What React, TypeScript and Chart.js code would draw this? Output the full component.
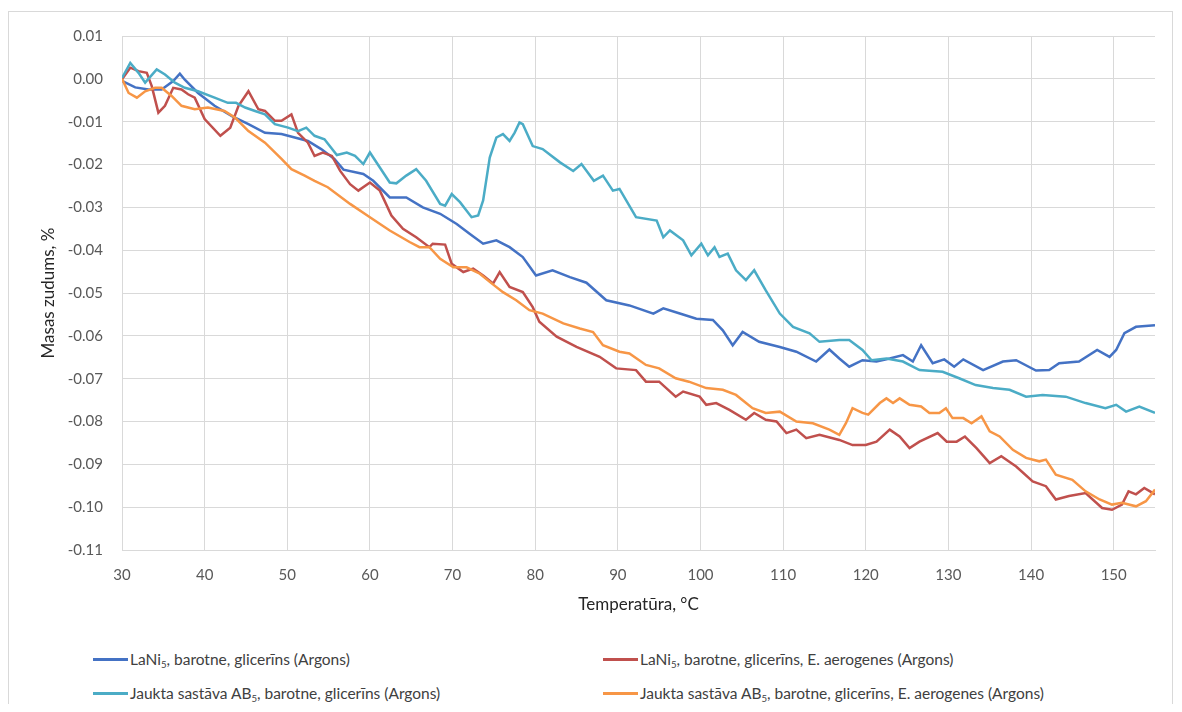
import React, { useEffect, useRef } from "react";
import { Chart, registerables } from "chart.js";

Chart.register(...registerables);

const FONT = "Lato, 'Liberation Sans', sans-serif";

// Series names (legend order: row by row)
const seriesLabels = [
  "LaNi₅, barotne, glicerīns (Argons)",
  "LaNi₅, barotne, glicerīns, E. aerogenes (Argons)",
  "Jaukta sastāva AB₅, barotne, glicerīns (Argons)",
  "Jaukta sastāva AB₅, barotne, glicerīns, E. aerogenes (Argons)",
];
const seriesColors = ["#4472C4", "#C0504D", "#4BACC6", "#F79646"];

// LaNi5, barotne, glicerīns
const laniT = [30, 31.6, 33.2, 34.8, 36.2, 37, 37.6, 39.2, 41.2, 43.3, 45.3, 47.3, 49.3, 50.9, 52.5, 54.1, 55.7, 56.8, 59.2, 60.4, 62.4, 64.4, 66.4, 68.5, 70.5, 72.1, 73.7, 75.3, 76.9, 78.5, 80.1, 82.1, 84.2, 86.2, 88.6, 91.4, 94.3, 95.5, 97.5, 99.5, 101.5, 102.7, 103.9, 105.1, 107.1, 109.6, 111.6, 114, 115.6, 116.8, 118, 119.6, 121.3, 122.9, 124.5, 125.7, 126.7, 128.1, 129.5, 130.7, 131.8, 134.2, 136.6, 138.2, 140.6, 142.2, 143.4, 145.8, 148, 149.5, 150.3, 151.3, 152.7, 155];
const laniV = [-0.0005, -0.002, -0.0025, -0.0025, -0.0005, 0.0012, -0.0002, -0.0033, -0.0063, -0.0087, -0.0106, -0.0126, -0.0129, -0.0137, -0.0145, -0.0164, -0.0187, -0.0212, -0.0222, -0.0238, -0.0277, -0.0277, -0.03, -0.0315, -0.0339, -0.0362, -0.0385, -0.0377, -0.0393, -0.0416, -0.0459, -0.0447, -0.0463, -0.0476, -0.0517, -0.0529, -0.0548, -0.0536, -0.0548, -0.056, -0.0563, -0.0587, -0.0622, -0.0591, -0.0614, -0.0626, -0.0637, -0.066, -0.0632, -0.0653, -0.0672, -0.0657, -0.066, -0.0653, -0.0645, -0.066, -0.0622, -0.0664, -0.0655, -0.0672, -0.0655, -0.068, -0.066, -0.0657, -0.0681, -0.068, -0.0664, -0.066, -0.0633, -0.0649, -0.0633, -0.0594, -0.0579, -0.0575];

// LaNi5, barotne, glicerīns, E. aerogenes
const laniAeroT = [30, 31, 32, 33, 33.6, 34.4, 35.2, 36.2, 37.2, 38, 38.8, 40, 41.9, 43.1, 44.1, 45.3, 46.5, 47.3, 48.5, 49.3, 50.5, 51.3, 52.5, 53.3, 54.3, 55.4, 56.4, 57.6, 58.6, 60, 61.2, 62.6, 64, 65.6, 67.2, 67.6, 69.1, 69.9, 71.3, 72.5, 73.7, 74.9, 75.7, 76.9, 78.5, 79.7, 80.5, 82.6, 85, 87.8, 89.8, 92.2, 93.4, 95, 97, 97.9, 99.9, 100.7, 101.9, 103.5, 105.5, 106.5, 107.9, 109.2, 110.4, 111.6, 112.8, 114.4, 116.8, 118.4, 120, 121.3, 122.9, 124.1, 125.3, 126.5, 128.7, 129.8, 131, 132, 133.4, 135, 136.4, 138.2, 140.2, 141.8, 143, 144.6, 146.6, 148.6, 149.8, 151, 151.8, 152.7, 153.7, 155];
const laniAeroV = [-0.0001, 0.0026, 0.0018, 0.0014, -0.0017, -0.0079, -0.0063, -0.0021, -0.0025, -0.0036, -0.0044, -0.0094, -0.0133, -0.0114, -0.0063, -0.0029, -0.0071, -0.0075, -0.0098, -0.0098, -0.0083, -0.0126, -0.0149, -0.018, -0.0172, -0.018, -0.0215, -0.0246, -0.0261, -0.0242, -0.0261, -0.0319, -0.035, -0.037, -0.0393, -0.0385, -0.0387, -0.0432, -0.0451, -0.0443, -0.0459, -0.0478, -0.0451, -0.0486, -0.0498, -0.0533, -0.0567, -0.0602, -0.0626, -0.0649, -0.0676, -0.068, -0.0707, -0.0707, -0.0742, -0.073, -0.0742, -0.0761, -0.0757, -0.0773, -0.0796, -0.078, -0.0796, -0.08, -0.0827, -0.0819, -0.0839, -0.0831, -0.0843, -0.0855, -0.0855, -0.0847, -0.0819, -0.0835, -0.0862, -0.0847, -0.0827, -0.0847, -0.0847, -0.0835, -0.0862, -0.0897, -0.0881, -0.0905, -0.094, -0.0951, -0.0982, -0.0974, -0.0967, -0.1002, -0.1006, -0.0994, -0.0963, -0.097, -0.0955, -0.097];

// Jaukta sastāva AB5, barotne, glicerīns
const ab5T = [30, 31, 32, 32.8, 34.2, 35.2, 36.4, 37.6, 39.2, 41.2, 42.8, 43.8, 44.9, 46.1, 47.3, 48.5, 50.1, 51.3, 52.3, 53.3, 54.5, 56, 57.2, 58.2, 59.2, 60, 61.2, 62.4, 63.2, 64.4, 65.6, 66.8, 68.5, 69.1, 69.9, 70.9, 72.3, 73.1, 73.7, 74.5, 75.3, 76.1, 76.9, 77.5, 78.1, 78.5, 79.7, 80.9, 83, 84.6, 85.6, 87.1, 88.2, 89.4, 90.2, 92.2, 94.7, 95.5, 96.3, 97.9, 98.9, 100.1, 100.9, 101.7, 102.3, 103.3, 104.3, 105.5, 106.5, 107.9, 109.6, 111.2, 113.2, 114.4, 116.8, 118, 119.6, 120.7, 122.5, 124.5, 126.5, 129.3, 131.3, 133.3, 135.4, 137.4, 139.4, 141.4, 144.2, 146.6, 149, 150.3, 151.5, 153.1, 155];
const ab5V = [0.0002, 0.0037, 0.0014, -0.0009, 0.0022, 0.001, -0.0009, -0.0021, -0.0029, -0.0044, -0.0056, -0.0056, -0.0067, -0.0075, -0.0083, -0.0106, -0.0114, -0.0122, -0.0114, -0.0133, -0.0141, -0.0178, -0.0172, -0.018, -0.0199, -0.0172, -0.0207, -0.0242, -0.0244, -0.0226, -0.0211, -0.0238, -0.0292, -0.0296, -0.0269, -0.0288, -0.0323, -0.0319, -0.0284, -0.0184, -0.0137, -0.0129, -0.0145, -0.0126, -0.0102, -0.0106, -0.0157, -0.0164, -0.0195, -0.0215, -0.0199, -0.0238, -0.0226, -0.0261, -0.0257, -0.0323, -0.0331, -0.037, -0.0354, -0.0377, -0.0412, -0.0385, -0.0412, -0.0393, -0.0416, -0.0408, -0.0447, -0.047, -0.0447, -0.0494, -0.0548, -0.0579, -0.0594, -0.0614, -0.061, -0.061, -0.0633, -0.0657, -0.0653, -0.066, -0.068, -0.0684, -0.0699, -0.0715, -0.0722, -0.0726, -0.0742, -0.0738, -0.0742, -0.0757, -0.0769, -0.0761, -0.0777, -0.0765, -0.078];

// Jaukta sastāva AB5, barotne, glicerīns, E. aerogenes
const ab5AeroT = [30, 30.8, 31.8, 32.8, 34, 34.8, 36, 37.2, 38.8, 40.4, 42.4, 43.7, 45.3, 47.3, 49.3, 50.5, 52.1, 53.3, 54.9, 57.6, 60, 62.4, 64.8, 66, 67.2, 68.5, 70.1, 71.7, 73.3, 74.5, 76.1, 77.7, 79.3, 80.9, 83.4, 85.4, 87, 88.2, 90.2, 91.4, 93.4, 95, 97, 98.6, 100.7, 102.7, 104.3, 106.3, 107.9, 109.6, 111.6, 113.6, 115.6, 116.8, 117.6, 118.4, 119.6, 120.3, 121.7, 122.5, 123.3, 124.1, 125.3, 126.7, 127.7, 128.9, 129.7, 130.5, 131.8, 132.8, 134, 135, 136.2, 137.8, 139.4, 141, 141.8, 143, 145, 146.6, 148.3, 149.8, 151, 152.7, 153.9, 155];
const ab5AeroV = [0, -0.0033, -0.0044, -0.0029, -0.0021, -0.0021, -0.004, -0.0063, -0.0071, -0.0067, -0.0075, -0.0091, -0.0122, -0.0149, -0.0187, -0.0211, -0.0226, -0.0238, -0.0253, -0.0292, -0.0323, -0.0354, -0.0381, -0.0393, -0.0393, -0.042, -0.044, -0.044, -0.0455, -0.0474, -0.0498, -0.0517, -0.054, -0.0548, -0.0571, -0.0583, -0.0591, -0.0622, -0.0637, -0.0641, -0.0668, -0.0676, -0.0699, -0.0707, -0.0722, -0.0726, -0.0738, -0.0769, -0.078, -0.0777, -0.08, -0.0804, -0.0819, -0.0831, -0.0804, -0.0769, -0.078, -0.0784, -0.0757, -0.0746, -0.0757, -0.0746, -0.0761, -0.0765, -0.078, -0.078, -0.0769, -0.0792, -0.0792, -0.0804, -0.0788, -0.0823, -0.0835, -0.0866, -0.0885, -0.0893, -0.0889, -0.0924, -0.0936, -0.0963, -0.0982, -0.0994, -0.099, -0.0998, -0.0986, -0.0959];

const seriesT = [laniT, laniAeroT, ab5T, ab5AeroT];
const seriesV = [laniV, laniAeroV, ab5V, ab5AeroV];

// Axes
const xMin = 30;
const xMax = 155;
const xStep = 10;
const yMin = -0.11;
const yMax = 0.01;
const yStep = 0.01;
const xTitle = "Temperatūra, °C";
const yTitle = "Masas zudums, %";

const GRID = "#d9d9d9";
const TICK_COLOR = "#595959";
const TITLE_COLOR = "#262626";

function withSubscript(text: string) {
  const parts = text.split("₅");
  const out: React.ReactNode[] = [];
  parts.forEach((p, i) => {
    if (i > 0) {
      out.push(
        <span key={"s" + i} style={{ fontSize: "0.62em", position: "relative", top: "0.3em" }}>
          5
        </span>
      );
    }
    out.push(<React.Fragment key={"t" + i}>{p}</React.Fragment>);
  });
  return out;
}

export default function App() {
  const canvasRef = useRef<HTMLCanvasElement | null>(null);

  useEffect(() => {
    let chart: Chart | null = null;
    let cancelled = false;

    const build = () => {
      if (cancelled || !canvasRef.current) return;
      const datasets = seriesLabels.map((label, i) => ({
        label,
        data: seriesT[i].map((t, j) => ({ x: t, y: seriesV[i][j] })),
        borderColor: seriesColors[i],
        backgroundColor: seriesColors[i],
        borderWidth: 2.5,
        pointRadius: 0,
        tension: 0,
        fill: false,
        order: seriesLabels.length - i,
      }));

      chart = new Chart(canvasRef.current, {
        type: "line",
        data: { datasets },
        options: {
          animation: false,
          responsive: false,
          devicePixelRatio: 1,
          layout: { padding: { left: 0, right: 19, top: 26, bottom: 0 } },
          plugins: {
            legend: { display: false },
            tooltip: { enabled: false },
          },
          scales: {
            x: {
              type: "linear",
              min: xMin,
              max: xMax,
              afterFit: (s: any) => {
                s.height = 78;
              },
              ticks: {
                stepSize: xStep,
                includeBounds: false,
                padding: 16,
                color: TICK_COLOR,
                font: { family: FONT, size: 15 },
                maxRotation: 0,
              },
              grid: { color: GRID, lineWidth: 1, drawTicks: false },
              border: { display: true, color: GRID, width: 1 },
              title: {
                display: true,
                text: xTitle,
                color: TITLE_COLOR,
                font: { family: FONT, size: 17 },
                padding: { top: 0, bottom: 13 },
              },
            },
            y: {
              type: "linear",
              min: yMin,
              max: yMax,
              afterFit: (s: any) => {
                s.width = 114;
              },
              ticks: {
                stepSize: yStep,
                padding: 19,
                color: TICK_COLOR,
                font: { family: FONT, size: 15 },
                callback: (v: any) => {
                  const n = Number(v);
                  return Math.abs(n) < 1e-9 ? "0.00" : n.toFixed(2);
                },
              },
              grid: { color: GRID, lineWidth: 1, drawTicks: false },
              border: { display: true, color: GRID, width: 1 },
              title: {
                display: true,
                text: yTitle,
                color: TITLE_COLOR,
                font: { family: FONT, size: 17 },
                padding: { top: 30, bottom: 0 },
              },
            },
          },
        },
      });
    };

    if ((document as any).fonts && (document as any).fonts.load) {
      (document as any).fonts.load("15px Lato").then(build, build);
    } else {
      build();
    }

    return () => {
      cancelled = true;
      if (chart) chart.destroy();
    };
  }, []);

  const legendCols = [85, 595];
  const legendRows = [651, 685];

  return (
    <div style={{ position: "relative", width: 1166, height: 696, overflow: "hidden", background: "#fff" }}>
      <div
        style={{
          position: "absolute",
          left: 0,
          top: 3,
          width: 1165,
          height: 720,
          boxSizing: "border-box",
          border: "1px solid #d9d9d9",
        }}
      />
      <canvas
        ref={canvasRef}
        width={1166}
        height={620}
        style={{ position: "absolute", left: 0, top: 0, width: 1166, height: 620 }}
      />
      {seriesLabels.map((label, i) => (
        <div
          key={label}
          style={{
            position: "absolute",
            left: legendCols[i % 2],
            top: legendRows[Math.floor(i / 2)] - 11,
            height: 22,
            display: "flex",
            alignItems: "center",
            fontFamily: FONT,
            fontSize: 15.5,
            color: "#404040",
            whiteSpace: "nowrap",
          }}
        >
          <span
            style={{
              display: "inline-block",
              width: 35,
              height: 3,
              background: seriesColors[i],
              marginRight: 2,
            }}
          />
          <span>{withSubscript(label)}</span>
        </div>
      ))}
    </div>
  );
}
